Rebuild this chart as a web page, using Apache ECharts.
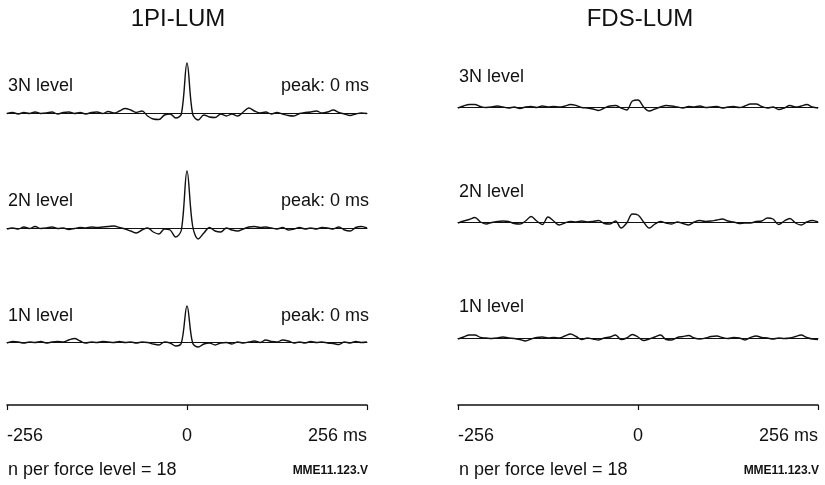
<!DOCTYPE html>
<html>
<head>
<meta charset="utf-8">
<script src="https://cdn.jsdelivr.net/npm/echarts@6/dist/echarts.min.js"></script>
<style>
  html, body { margin: 0; padding: 0; background: #fff; }
  #chart { width: 825px; height: 485px; }
</style>
</head>
<body>
<div id="chart"></div>
<script>
// Cross-correlogram lags (ms), 8 ms bins
const lagsMs = [-256,-248,-240,-232,-224,-216,-208,-200,-192,-184,-176,-168,-160,-152,-144,-136,
  -128,-120,-112,-104,-96,-88,-80,-72,-64,-56,-48,-40,-32,-24,-16,-8,0,8,16,24,32,40,48,56,
  64,72,80,88,96,104,112,120,128,136,144,152,160,168,176,184,192,200,208,216,224,232,240,248,256];

const panelTitles = ['1PI-LUM', 'FDS-LUM'];
const levelLabels = ['3N level', '2N level', '1N level'];
const peakLabel = 'peak: 0 ms';
const tickLabels = ['-256', '0', '256 ms'];
const footnote = 'n per force level = 18';
const fileTag = 'MME11.123.V';

// 1PI-LUM correlograms (arbitrary amplitude units)
const pi3N = [-0.5,0.5,-1,0.5,-0.5,1,-0.5,0,1,-1, 0.5,1,-0.5,0.5,-1,0.5,1,-0.5,1.5,0,
  2,4.5,3,0.5,2,-3,-6,-6.5,-2,-1, -5,-1,50,-1,-7,-2,-4,-4.5,-1,-3,
  -1,-3,1,5,2,0,1,-1,0.5,-1, -2.5,-3,-0.5,0.5,1,2,0,1,3,0.5, -1,-2.5,-1,0,-0.5];
const pi2N = [-1,0,-1,1,-0.5,1.5,-0.5,0,1,-0.5, 0,-1.5,-0.5,0.5,0,1,0.5,1,1.5,2,
  0.5,-1,-3,-5,-2,0,-4,-6,-1,-2, -9,-2,57,2,-11,-5,0.5,-3,-4,0,
  -2,-3,-1,1,1.5,0.5,1,0,-1,0.5, -2,-1,0.5,-1,0,-1,0.5,0,-1,1, -2,-3,0.5,1.5,0];
const pi1N = [-1,0.5,0,-1,0,-0.5,0.5,-1,0,0.5, 0,2,3.5,1,-1,0,-0.5,0.5,0,-0.5,
  0.5,-0.5,0,-1,0,-0.5,-2,-3,0,-1, -4,-1,36,-1,-5,-2,-1,-3,-1,-0.5,
  -2,0,-1,0,1,-0.5,2,0.5,0,2, 1,-1,0,-1,0.5,-0.5,0,-1,-1.5,-2.5, 0,-1,0.5,-0.5,0];

// FDS-LUM correlograms
const fds3N = [-1,1,2.5,2.5,0.5,-0.5,0,1,0,-1, 0,-1.5,0,0.5,-0.5,1,0,0.5,0,1,
  2.5,1.5,-0.5,-1,-2,-3.5,-1,1,1.5,-1, -3,6,7,0,-4,-2,0,1.5,1,0,
  -1,0.5,0,1,-0.5,0,0.5,-1,0,0.5, -0.5,1,3,3,0.5,-1,0,-2.5,-1,1.5, 0,1,2.5,0,-1];
const fds2N = [-1,1,2.5,4.5,0,-2,-0.5,0.5,1,0.5, -1.5,-2,1,5.5,1,-2.5,5,1,-3,-1,
  0.5,0,1,0,0.5,1.5,-1.5,-2,1,-6, -1,8,7,0,-6,-2,0.5,-1,-2,0,
  -1.5,-3,0,1.5,0.5,1,2,3,1,0, -1.5,-1,-1,0.5,1,4,3,-2.5,1,3.5, -1,-3,0,1.5,0];
const fds1N = [-1,1,3,3,0.5,0,-0.5,0,1,0, -0.5,-1.5,-3,-1,0.5,1,0,0.5,0,2,
  4,1.5,-1.5,0,-1,-2,0,1,3,-1.5, 0,3.5,1,-2.5,-1,1,3,-1.5,-2,0.5,
  1.5,2.5,0,-1,0,1.5,2,0.5,-0.5,0.5, 0,-2,0.5,2,0.5,0,-1,0,-0.5,0, 1.5,3,0.5,-1,-1.5];

// ---- layout ----
const FONT = "'Liberation Sans', Arial, Helvetica, sans-serif";
const INK = '#111';
const PANEL_W = 360;
const panels = [
  { left: 7,   titleX: 178, bases: [113, 228, 342], labelY: [86, 201, 316], traces: [pi3N, pi2N, pi1N], peaks: true },
  { left: 458, titleX: 640, bases: [107, 222, 338], labelY: [77, 192, 307], traces: [fds3N, fds2N, fds1N], peaks: false }
];
const Y_MIN = -15, Y_MAX = 60, STRIP_H = 75;
const AXIS_Y = 405;

const grid = [], xAxis = [], yAxis = [], series = [], graphic = [];

panels.forEach((p, pi) => {
  p.traces.forEach((vals, li) => {
    const gi = grid.length;
    grid.push({ left: p.left, width: PANEL_W, top: p.bases[li] - STRIP_H * Y_MAX / (Y_MAX - Y_MIN), height: STRIP_H });
    xAxis.push({
      gridIndex: gi, type: 'value', min: -256, max: 256,
      axisLine: { show: true, onZero: true, lineStyle: { color: INK, width: 1 } },
      axisTick: { show: false }, axisLabel: { show: false }, splitLine: { show: false }
    });
    yAxis.push({ gridIndex: gi, type: 'value', min: Y_MIN, max: Y_MAX, show: false });
    series.push({
      type: 'line', xAxisIndex: gi, yAxisIndex: gi,
      data: lagsMs.map((lag, i) => [lag, vals[i]]),
      symbol: 'none', smooth: 0.35, z: 3,
      lineStyle: { color: INK, width: 1.4 }
    });
    graphic.push({
      type: 'text', x: p.left + 1, y: p.labelY[li],
      style: { text: levelLabels[li], font: '18px ' + FONT, fill: INK, align: 'left', verticalAlign: 'middle' }
    });
    if (p.peaks) {
      graphic.push({
        type: 'text', x: p.left + PANEL_W + 2, y: p.labelY[li],
        style: { text: peakLabel, font: '18px ' + FONT, fill: INK, align: 'right', verticalAlign: 'middle' }
      });
    }
  });

  // time axis under each panel
  const gi = grid.length;
  grid.push({ left: p.left, width: PANEL_W, top: AXIS_Y - 20, height: 20 });
  xAxis.push({
    gridIndex: gi, type: 'value', position: 'bottom', min: -256, max: 256, interval: 256,
    axisLine: { show: true, onZero: false, lineStyle: { color: INK, width: 1.5 } },
    axisTick: { show: true, inside: false, length: 5, lineStyle: { color: INK, width: 1.2 } },
    axisLabel: {
      show: true, margin: 22, color: INK, fontSize: 18, fontFamily: FONT,
      alignMinLabel: 'left', alignMaxLabel: 'right',
      formatter: v => tickLabels[Math.round((v + 256) / 256)]
    },
    splitLine: { show: false }
  });
  yAxis.push({ gridIndex: gi, type: 'value', min: 0, max: 1, show: false });

  graphic.push({
    type: 'text', x: p.titleX, y: 19,
    style: { text: panelTitles[pi], font: '24px ' + FONT, fill: INK, align: 'center', verticalAlign: 'middle' }
  });
  graphic.push({
    type: 'text', x: p.left + 1, y: 470,
    style: { text: footnote, font: '18px ' + FONT, fill: INK, align: 'left', verticalAlign: 'middle' }
  });
  graphic.push({
    type: 'text', x: p.left + PANEL_W + 1, y: 471,
    style: { text: fileTag, font: 'bold 12px ' + FONT, fill: INK, align: 'right', verticalAlign: 'middle' }
  });
});

const chart = echarts.init(document.getElementById('chart'), null, { renderer: 'canvas' });
chart.setOption({
  animation: false,
  backgroundColor: '#fff',
  grid, xAxis, yAxis, series, graphic
});
</script>
</body>
</html>
